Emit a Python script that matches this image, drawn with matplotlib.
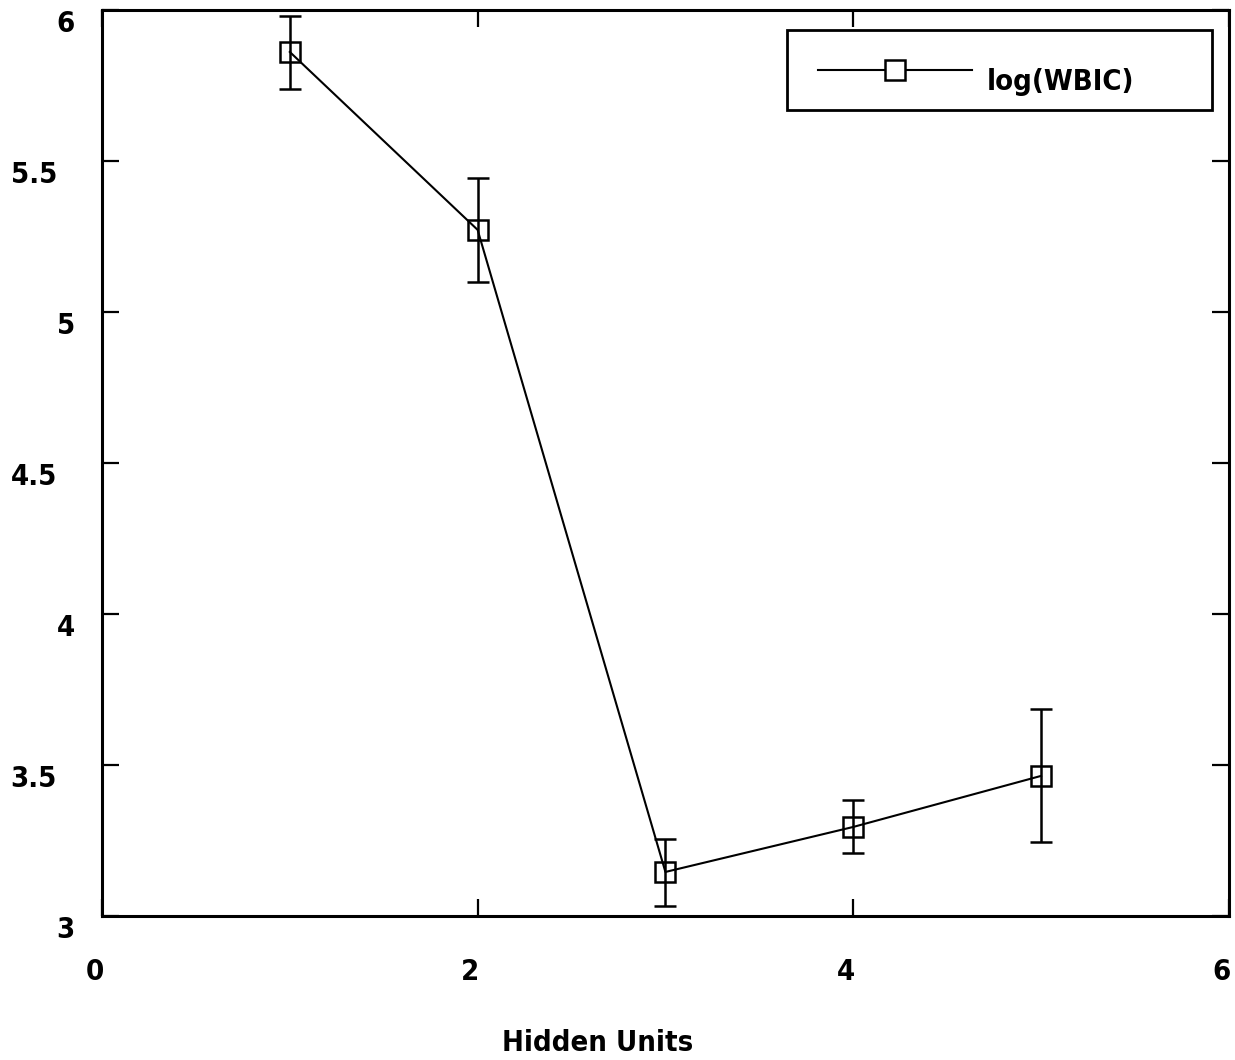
import matplotlib
matplotlib.use("Agg")
import matplotlib.pyplot as plt
from matplotlib.lines import Line2D
from matplotlib.patches import Rectangle

plt.rcParams['font.family'] = ['Liberation Sans Narrow', 'DejaVu Sans']
plt.rcParams['font.weight'] = 'bold'
plt.rcParams['font.stretch'] = 'condensed'

hidden_units = [1, 2, 3, 4, 5]
log_wbic = [5.861, 5.272, 3.146, 3.295, 3.464]
err_lo = [0.123, 0.173, 0.113, 0.087, 0.219]
err_hi = [0.119, 0.172, 0.109, 0.089, 0.221]

xticks = [0, 2, 4, 6]
yticks = [3, 3.5, 4, 4.5, 5, 5.5, 6]
ylabels = ['3', '3.5', '4', '4.5', '5', '5.5', '6']

fig = plt.figure(figsize=(12.35, 10.6), dpi=100)
ax = fig.add_axes([0.0826, 0.1358, 0.9124, 0.8548])

ax.errorbar(hidden_units, log_wbic, yerr=[err_lo, err_hi], color='black',
            lw=1.5, marker='s', ms=15, mfc='none', mec='black', mew=1.8,
            capsize=8, elinewidth=1.8, capthick=1.8)

ax.set_xlim(0, 6)
ax.set_ylim(3, 6)
ax.set_xticks(xticks)
ax.set_yticks(yticks)
ax.set_xticklabels([])
ax.set_yticklabels([])
for s in ax.spines.values():
    s.set_linewidth(2.2)
ax.tick_params(direction='in', length=12, width=1.6, top=True, right=True)

# tick labels placed by hand, like the original (integers and decimals offset)
ytr = ax.get_yaxis_transform()
for v, t in zip(yticks, ylabels):
    xoff = -0.024 if '.' not in t else -0.040
    ax.text(xoff, v, t, transform=ytr, ha='right', va='top', fontsize=21)
xtr = ax.get_xaxis_transform()
for v in xticks:
    ax.text(v - 0.04, -0.062, str(v), transform=xtr, ha='center', va='center',
            fontsize=21)
ax.text(0.44, -0.14, 'Hidden Units', transform=ax.transAxes, ha='center',
        va='center', fontsize=21)

# legend box
ax.add_patch(Rectangle((0.6078, 0.8896), 0.3772, 0.0884, transform=ax.transAxes,
                       fill=False, ec='black', lw=2, zorder=5))
ax.add_line(Line2D([0.6353, 0.772], [0.9338, 0.9338], transform=ax.transAxes,
                   color='black', lw=1.5, zorder=6))
ax.add_line(Line2D([0.7036], [0.9338], transform=ax.transAxes, marker='s',
                   ms=15, mfc='white', mec='black', mew=1.8, zorder=7))
ax.text(0.785, 0.921, 'log(WBIC)', transform=ax.transAxes, ha='left',
        va='center', fontsize=21, zorder=7)

fig.savefig('out.png', dpi=100)
